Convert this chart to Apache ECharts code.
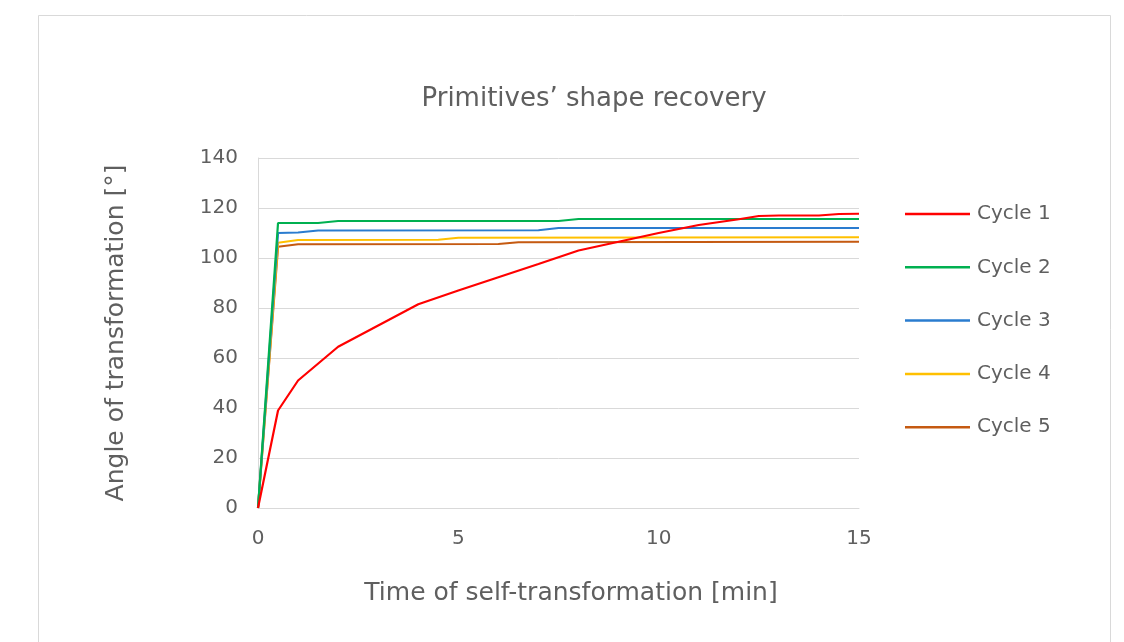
<!DOCTYPE html>
<html>
<head>
<meta charset="utf-8">
<script src="https://cdn.jsdelivr.net/npm/echarts@6/dist/echarts.min.js"></script>
<style>
  html, body { margin: 0; padding: 0; background: #ffffff; }
  #chart { width: 1124px; height: 642px; }
</style>
</head>
<body>
<div id="chart"></div>
<script>
// Recovery of the bend angle [°] over time [min] for five loading cycles
const seriesNames = ['Cycle 1', 'Cycle 2', 'Cycle 3', 'Cycle 4', 'Cycle 5'];

const cycle1 = [[0, 0], [0.5, 39], [1, 51], [2, 64.5], [3, 73], [4, 81.5], [5, 87], [6, 92.3],
  [7, 97.6], [8, 103], [9, 106.5], [10, 110], [11, 113.2], [12, 115.5], [12.5, 116.8],
  [13, 117], [14, 117], [14.5, 117.6], [15, 117.7]];
const cycle2 = [[0, 0], [0.5, 114], [1.5, 114], [2, 114.8], [7.5, 114.8], [8, 115.6], [15, 115.6]];
const cycle3 = [[0, 0], [0.5, 110], [1, 110.2], [1.5, 111], [7, 111.1], [7.5, 112], [15, 112]];
const cycle4 = [[0, 0], [0.5, 106.1], [1, 107.2], [4.5, 107.3], [5, 108.1], [15, 108.3]];
const cycle5 = [[0, 0], [0.5, 104.5], [1, 105.5], [6, 105.6], [6.5, 106.3], [15, 106.5]];

const seriesData = [cycle1, cycle2, cycle3, cycle4, cycle5];
const seriesColors = ['#ff0000', '#00b050', '#2a7ccf', '#ffc000', '#c55a11'];

const xTicks = { min: 0, max: 15, interval: 5 };
const yTicks = { min: 0, max: 140, interval: 20 };

const textColor = '#5f5f5f';
const fontFamily = '"DejaVu Sans", Verdana, sans-serif';

const chart = echarts.init(document.getElementById('chart'), null, { renderer: 'canvas' });

chart.setOption({
  backgroundColor: '#ffffff',
  animation: false,
  textStyle: { fontFamily: fontFamily },
  graphic: [{
    type: 'rect',
    shape: { x: 38.5, y: 15.5, width: 1072, height: 640 },
    style: { fill: 'none', stroke: '#d9d9d9', lineWidth: 1 },
    silent: true
  }],
  title: {
    text: 'Primitives\u2019 shape recovery',
    left: 589,
    top: 81,
    textAlign: 'center',
    textStyle: { color: textColor, fontSize: 26, fontWeight: 'normal', fontFamily: fontFamily }
  },
  legend: {
    orient: 'vertical',
    left: 900,
    top: 198,
    icon: 'rect',
    itemWidth: 65,
    itemHeight: 2.5,
    itemGap: 31.3,
    data: seriesNames,
    textStyle: { color: textColor, fontSize: 20, fontFamily: fontFamily, lineHeight: 22, padding: [0, 0, 0, 2] }
  },
  grid: { left: 258, right: 265, top: 158, bottom: 134, containLabel: false },
  xAxis: {
    type: 'value',
    min: xTicks.min, max: xTicks.max, interval: xTicks.interval,
    name: 'Time of self-transformation [min]',
    nameLocation: 'middle',
    nameGap: 73,
    nameTextStyle: { color: textColor, fontSize: 25, fontFamily: fontFamily, padding: [0, 0, 0, 25] },
    axisLine: { show: true, lineStyle: { color: '#d9d9d9', width: 1 } },
    axisTick: { show: false },
    splitLine: { show: false },
    axisLabel: { color: textColor, fontSize: 20, margin: 21, fontFamily: fontFamily }
  },
  yAxis: {
    type: 'value',
    min: yTicks.min, max: yTicks.max, interval: yTicks.interval,
    name: 'Angle of transformation [\u00b0]',
    nameLocation: 'middle',
    nameGap: 129,
    nameTextStyle: { color: textColor, fontSize: 25, fontFamily: fontFamily },
    axisLine: { show: true, lineStyle: { color: '#d9d9d9', width: 1 } },
    axisTick: { show: false },
    splitLine: { show: true, lineStyle: { color: '#d9d9d9', width: 1 } },
    axisLabel: { color: textColor, fontSize: 20, margin: 20, fontFamily: fontFamily }
  },
  series: seriesNames.map((name, i) => ({
    name: name,
    type: 'line',
    data: seriesData[i],
    showSymbol: false,
    symbol: 'none',
    color: seriesColors[i],
    lineStyle: { color: seriesColors[i], width: 2.2 },
    z: 5 - i
  }))
});
</script>
</body>
</html>
